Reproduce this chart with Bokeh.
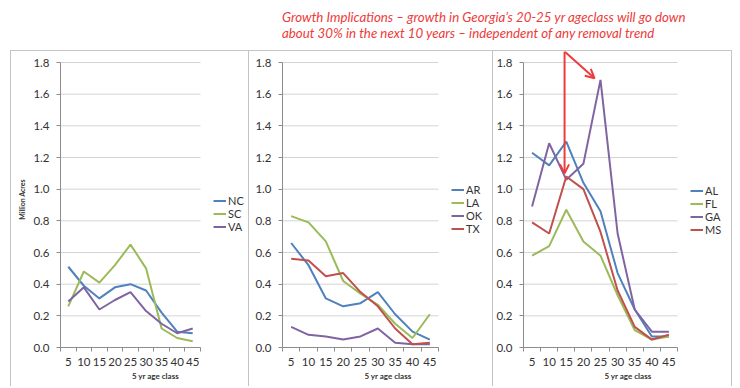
from bokeh.plotting import figure
from bokeh.models import (Range1d, FixedTicker, NumeralTickFormatter, Legend, LegendItem,
                          Div, Arrow, OpenHead, AllLabels)
from bokeh.layouts import column, row
from bokeh.embed import file_html
from bokeh.resources import INLINE

# ---------------- data ----------------
age_classes = ["5", "10", "15", "20", "25", "30", "35", "40", "45"]
y_ticks = [0.0, 0.2, 0.4, 0.6, 0.8, 1.0, 1.2, 1.4, 1.6, 1.8]

nc = [0.51, 0.39, 0.31, 0.38, 0.40, 0.36, 0.22, 0.10, 0.09]
sc = [0.26, 0.48, 0.41, 0.52, 0.65, 0.50, 0.12, 0.06, 0.04]
va = [0.29, 0.38, 0.24, 0.30, 0.35, 0.23, 0.15, 0.09, 0.12]

ar = [0.66, 0.52, 0.31, 0.26, 0.28, 0.35, 0.21, 0.10, 0.05]
la = [0.83, 0.79, 0.67, 0.42, 0.34, 0.27, 0.15, 0.06, 0.21]
ok = [0.13, 0.08, 0.07, 0.05, 0.07, 0.12, 0.03, 0.02, 0.02]
tx = [0.56, 0.55, 0.45, 0.47, 0.35, 0.26, 0.12, 0.02, 0.03]

al = [1.23, 1.15, 1.30, 1.04, 0.86, 0.47, 0.24, 0.07, 0.07]
fl = [0.58, 0.64, 0.87, 0.67, 0.58, 0.33, 0.11, 0.05, 0.07]
ga = [0.89, 1.29, 1.06, 1.16, 1.69, 0.72, 0.24, 0.10, 0.10]
ms = [0.79, 0.72, 1.08, 1.00, 0.73, 0.36, 0.13, 0.05, 0.08]

BLUE, GREEN, PURPLE, RED = "#4F81BD", "#9BBB59", "#8064A2", "#C0504D"
FONT = "Lato"
NOTE_RED = "#EE3B3B"
BORDER = "1px solid #c4c4c4"
AXIS_GREY = "#8c8c8c"
FIG_H = 336
BOTTOM = 40
FRAME_H = FIG_H - BOTTOM          # frame spans from the panel top to the x axis
PLOT_H = 285                      # pixels between 0.0 and 1.8
Y_MAX = y_ticks[-1]
Y_TOP = Y_MAX * FRAME_H / PLOT_H  # headroom above 1.8 inside the panel


def make_panel(series, width, left, plot_w, left_border=False, ylabel=None,
               margin=None, legend_y=116):
    n = len(age_classes)
    frame_w = width - left
    x_end = n * frame_w / plot_w
    styles = {"border-top": BORDER, "border-right": BORDER}
    if left_border:
        styles["border-left"] = BORDER
    p = figure(width=width, height=FIG_H, output_backend="svg", toolbar_location=None,
               x_range=Range1d(0, x_end), y_range=Range1d(0, Y_TOP),
               min_border_left=left, min_border_right=0,
               min_border_top=0, min_border_bottom=BOTTOM, styles=styles)
    if margin is not None:
        p.margin = margin
    p.outline_line_color = None
    p.xgrid.visible = False
    p.ygrid.visible = False

    # horizontal gridlines (only across the plotting area, not the legend)
    gy = y_ticks[1:]
    p.segment(x0=[0] * len(gy), x1=[n] * len(gy), y0=gy, y1=gy,
              line_color="#d4d4d4", line_width=1)

    xs = [i + 0.5 for i in range(n)]
    items = []
    for name, vals, color in series:
        r = p.line(xs, vals, line_color=color, line_width=2)
        items.append(LegendItem(label=name, renderers=[r]))

    # x axis (category axis with tick marks between categories)
    xa = p.xaxis[0]
    xa.bounds = (0, n)
    xa.ticker = FixedTicker(ticks=xs, minor_ticks=list(range(n + 1)))
    xa.major_label_overrides = {x: lab for x, lab in zip(xs, age_classes)}
    xa.major_label_policy = AllLabels()
    xa.major_tick_out = 0
    xa.major_tick_in = 0
    xa.minor_tick_out = 4
    xa.minor_tick_in = 0
    xa.minor_tick_line_color = AXIS_GREY
    xa.axis_line_color = AXIS_GREY
    xa.major_label_text_font = FONT
    xa.major_label_text_font_size = "11.5px"
    xa.major_label_text_color = "#333333"
    xa.major_label_standoff = 6
    xa.axis_label = "5 yr age class"
    xa.axis_label_text_font = FONT
    xa.axis_label_text_font_size = "8px"
    xa.axis_label_text_font_style = "bold"
    xa.axis_label_text_color = "#333333"
    xa.axis_label_standoff = 2

    ya = p.yaxis[0]
    ya.bounds = (y_ticks[0], Y_MAX)
    ya.ticker = FixedTicker(ticks=y_ticks)
    ya.formatter = NumeralTickFormatter(format="0.0")
    ya.major_label_policy = AllLabels()
    ya.major_tick_out = 4
    ya.major_tick_in = 0
    ya.minor_tick_out = 0
    ya.minor_tick_in = 0
    ya.major_tick_line_color = AXIS_GREY
    ya.axis_line_color = AXIS_GREY
    ya.major_label_text_font = FONT
    ya.major_label_text_font_size = "11.5px"
    ya.major_label_text_color = "#333333"
    ya.major_label_standoff = 7
    if ylabel:
        ya.axis_label = ylabel
        ya.axis_label_text_font = FONT
        ya.axis_label_text_font_size = "7px"
        ya.axis_label_text_font_style = "bold"
        ya.axis_label_text_color = "#333333"
        ya.axis_label_standoff = 4

    legend = Legend(items=items, orientation="vertical", location=(plot_w + 13, legend_y))
    legend.border_line_color = None
    legend.background_fill_alpha = 0
    legend.padding = 0
    legend.margin = 0
    legend.spacing = -3
    legend.glyph_width = 13
    legend.glyph_height = 9
    legend.label_height = 9
    legend.label_standoff = 2
    legend.label_text_font = FONT
    legend.label_text_font_size = "11px"
    legend.label_text_color = "#333333"
    p.add_layout(legend, "center")
    return p


p1 = make_panel([("NC", nc, BLUE), ("SC", sc, GREEN), ("VA", va, PURPLE)],
                width=239, left=49, plot_w=140, left_border=True, ylabel="Million Acres",
                margin=(0, 0, 0, 10), legend_y=114)
p2 = make_panel([("AR", ar, BLUE), ("LA", la, GREEN), ("OK", ok, PURPLE), ("TX", tx, RED)],
                width=244, left=33, plot_w=156, legend_y=112)
p3 = make_panel([("AL", al, BLUE), ("FL", fl, GREEN), ("GA", ga, PURPLE), ("MS", ms, RED)],
                width=239, left=30, plot_w=154, legend_y=111)

head1 = OpenHead(size=9, line_color=NOTE_RED, line_width=2)
head2 = OpenHead(size=9, line_color=NOTE_RED, line_width=2)
p3.add_layout(Arrow(end=head1, x_start=2.4, y_start=Y_TOP, x_end=2.4, y_end=1.10,
                    line_color=NOTE_RED, line_width=2))
p3.add_layout(Arrow(end=head2, x_start=2.4, y_start=Y_TOP, x_end=4.15, y_end=1.70,
                    line_color=NOTE_RED, line_width=2))

note_html = (
    '<div style="padding-left:282px; padding-top:9px; color:' + NOTE_RED +
    '; font-family:' + FONT + '; font-style:italic; font-size:13.3px; line-height:16px; '
    'white-space:nowrap;">'
    'Growth Implications \u2013 growth in Georgia\u2019s 20-25 yr ageclass will go down<br>'
    'about 30% in the next 10 years \u2013 independent of any removal trend</div>'
)
note = Div(text=note_html, width=735, height=50, margin=0)

layout = column(note, row(p1, p2, p3, spacing=0), spacing=0)

open("out.html", "w").write(file_html(layout, INLINE))
